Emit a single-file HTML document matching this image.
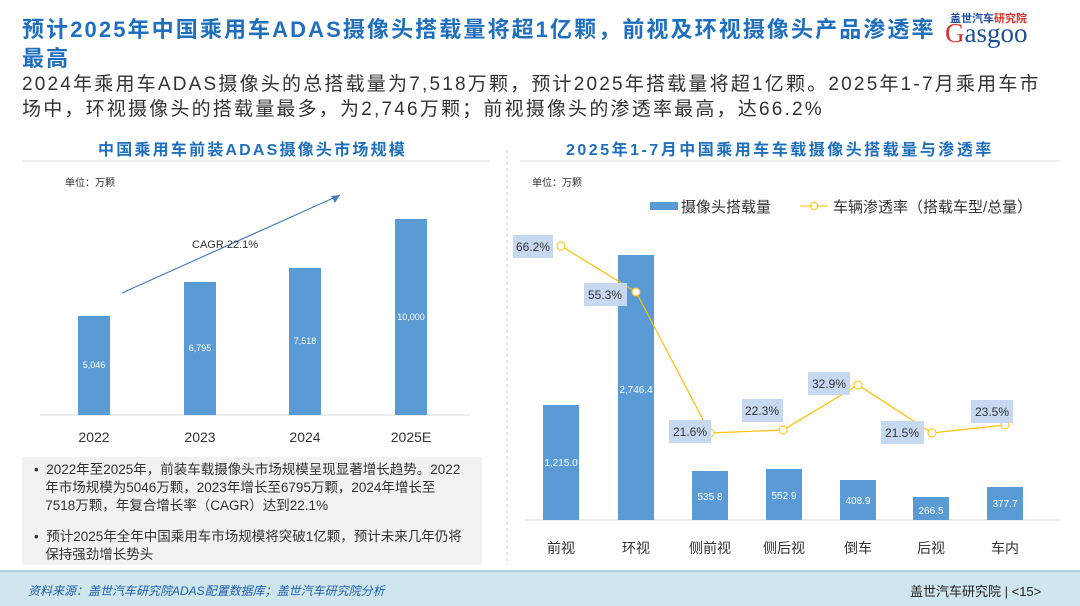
<!DOCTYPE html>
<html><head><meta charset="utf-8"><style>
body{margin:0;width:1080px;height:606px;overflow:hidden;background:#fff;font-family:"Liberation Sans","Noto Sans CJK SC",sans-serif;position:relative}
.a{position:absolute;white-space:nowrap}
</style></head><body>
<div class="a" style="left:22px;top:15px;font-size:22px;font-weight:bold;color:#1f6fbf;line-height:29px;letter-spacing:2.1px">预计2025年中国乘用车ADAS摄像头搭载量将超1亿颗，前视及环视摄像头产品渗透率<br>最高</div>
<div class="a" style="left:950px;top:10px;font-size:11px;color:#1f4f9a;font-weight:bold">盖世汽车<span style="color:#d9302c">研究院</span></div>
<div class="a" style="left:945px;top:18px;font-size:27px;color:#1f4f9a;font-family:'Liberation Serif',serif"><span style="color:#d9302c">G</span>asgoo</div>
<div class="a" style="left:22px;top:72px;font-size:19px;color:#333;line-height:25px;letter-spacing:2.2px">2024年乘用车ADAS摄像头的总搭载量为7,518万颗，预计2025年搭载量将超1亿颗。2025年1-7月乘用车市<br>场中，环视摄像头的搭载量最多，为2,746万颗；前视摄像头的渗透率最高，达66.2%</div>
<div class="a" style="left:98px;top:136px;font-size:16px;font-weight:bold;color:#1f6fbf;letter-spacing:2.2px">中国乘用车前装ADAS摄像头市场规模</div>
<div class="a" style="left:566px;top:136px;font-size:16px;font-weight:bold;color:#1f6fbf;letter-spacing:2.5px">2025年1-7月中国乘用车车载摄像头搭载量与渗透率</div>
<svg class="a" style="left:0;top:0" width="1080" height="606">
<line x1="22" y1="161" x2="490" y2="161" stroke="#ddd"/>
<line x1="520" y1="161" x2="1060" y2="161" stroke="#ddd"/>
<line x1="507" y1="150" x2="507" y2="565" stroke="#ccc" stroke-dasharray="3,3"/>
<text x="65" y="186" font-size="10" fill="#333">单位：万颗</text>
<line x1="40" y1="415" x2="470" y2="415" stroke="#d9d9d9"/>
<g fill="#5b9bd5">
<rect x="78" y="316" width="32" height="99"/><rect x="184" y="282" width="32" height="133"/>
<rect x="289" y="268" width="32" height="147"/><rect x="395" y="219" width="32" height="196"/></g>
<g font-size="9" fill="#fff" text-anchor="middle"><text x="94" y="368">5,046</text><text x="200" y="351">6,795</text><text x="305" y="344">7,518</text><text x="411" y="320">10,000</text></g>
<g font-size="14" fill="#333" text-anchor="middle"><text x="94" y="442">2022</text><text x="200" y="442">2023</text><text x="305" y="442">2024</text><text x="411" y="442">2025E</text></g>
<line x1="122" y1="293" x2="340" y2="195" stroke="#4a7ebb" stroke-width="1.2"/><polygon points="340,195 331,196 335,203" fill="#4a7ebb"/>
<text x="192" y="248" font-size="11" fill="#333">CAGR 22.1%</text>
<rect x="22" y="457" width="460" height="108" fill="#f2f2f2"/>
<text x="532" y="186" font-size="10" fill="#333">单位：万颗</text>
<rect x="650" y="202" width="28" height="8" fill="#5b9bd5"/>
<text x="681" y="212" font-size="15" fill="#333">摄像头搭载量</text>
<line x1="800" y1="206" x2="828" y2="206" stroke="#ffc000"/><circle cx="814" cy="206" r="3.5" fill="#fff" stroke="#ffc000"/>
<text x="833" y="212" font-size="15" fill="#333">车辆渗透率（搭载车型/总量）</text>
<line x1="525" y1="520" x2="1060" y2="520" stroke="#d9d9d9"/>
<g fill="#5b9bd5">
<rect x="543" y="405" width="36" height="115"/><rect x="618" y="255" width="36" height="265"/>
<rect x="692" y="471" width="36" height="49"/><rect x="766" y="469" width="36" height="51"/>
<rect x="840" y="480" width="36" height="40"/><rect x="913" y="497" width="36" height="23"/>
<rect x="987" y="487" width="36" height="33"/></g>
<g font-size="10" fill="#fff" text-anchor="middle"><text x="561" y="466">1,215.0</text><text x="636" y="393">2,746.4</text><text x="710" y="500">535.8</text><text x="784" y="499">552.9</text><text x="858" y="504">408.9</text><text x="931" y="514">266.5</text><text x="1005" y="507">377.7</text></g>
<polyline points="561,246 636,292 710,433 783,430 858,385 932,433 1005,425" fill="none" stroke="#ffc000" stroke-width="1.2"/>
<g fill="#fff" stroke="#ffc000"><circle cx="561" cy="246" r="4"/><circle cx="636" cy="292" r="4"/><circle cx="710" cy="433" r="4"/><circle cx="783" cy="430" r="4"/><circle cx="858" cy="385" r="4"/><circle cx="932" cy="433" r="4"/><circle cx="1005" cy="425" r="4"/></g>
<g fill="#c6d9f0"><rect x="513" y="235" width="40" height="23"/><rect x="584" y="283" width="43" height="23"/><rect x="669" y="420" width="42" height="23"/><rect x="742" y="399" width="41" height="23"/><rect x="808" y="372" width="42" height="23"/><rect x="881" y="421" width="43" height="23"/><rect x="971" y="400" width="42" height="23"/></g>
<g font-size="12" fill="#333" text-anchor="middle"><text x="533" y="251">66.2%</text><text x="605" y="299">55.3%</text><text x="690" y="436">21.6%</text><text x="762" y="415">22.3%</text><text x="829" y="388">32.9%</text><text x="902" y="437">21.5%</text><text x="992" y="416">23.5%</text></g>
<g font-size="14" fill="#333" text-anchor="middle"><text x="561" y="553">前视</text><text x="636" y="553">环视</text><text x="710" y="553">侧前视</text><text x="784" y="553">侧后视</text><text x="858" y="553">倒车</text><text x="931" y="553">后视</text><text x="1005" y="553">车内</text></g>
<rect x="0" y="571" width="1080" height="35" fill="#cfe6ef"/>
<line x1="0" y1="571" x2="1080" y2="571" stroke="#7fb4cc"/>
</svg>
<div class="a" style="left:34px;top:461px;font-size:13.5px;color:#333;line-height:18px">•&nbsp; 2022年至2025年，前装车载摄像头市场规模呈现显著增长趋势。2022<br>&nbsp;&nbsp;&nbsp;年市场规模为5046万颗，2023年增长至6795万颗，2024年增长至<br>&nbsp;&nbsp;&nbsp;7518万颗，年复合增长率（CAGR）达到22.1%</div>
<div class="a" style="left:34px;top:528px;font-size:13.5px;color:#333;line-height:18px">•&nbsp; 预计2025年全年中国乘用车市场规模将突破1亿颗，预计未来几年仍将<br>&nbsp;&nbsp;&nbsp;保持强劲增长势头</div>
<div class="a" style="left:28px;top:582px;font-size:12px;color:#1f5fa8;font-style:italic">资料来源：盖世汽车研究院ADAS配置数据库；盖世汽车研究院分析</div>
<div class="a" style="left:910px;top:581px;font-size:13px;color:#222">盖世汽车研究院 | &lt;15&gt;</div>
</body></html>
